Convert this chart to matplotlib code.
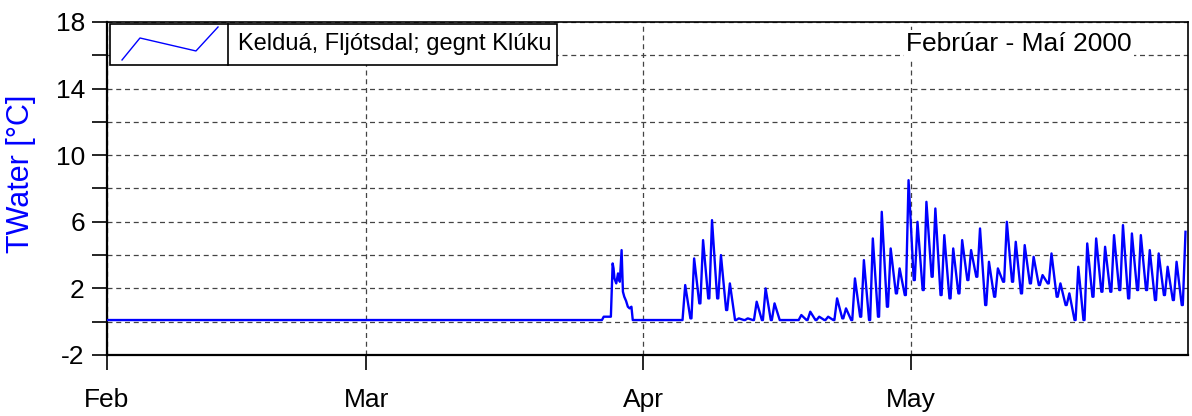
import pandas as pd
import matplotlib.pyplot as plt
import matplotlib.dates as mdates
from matplotlib.patches import Rectangle
from matplotlib.lines import Line2D

plt.rcParams["font.family"] = ["Liberation Sans", "DejaVu Sans"]
plt.rcParams["axes.unicode_minus"] = False

START = pd.Timestamp("2000-02-01")
END = pd.Timestamp("2000-06-01")

# days counted from 1 Feb; winter: water stays just above freezing
flat_days = [0.0, 55.4]
flat_temp = [0.1, 0.1]

# short thaw at the end of March
thaw_days = [55.6, 56.4, 56.5, 56.6, 56.7, 56.8, 57.0, 57.2, 57.4, 57.6,
             57.75, 57.9, 58.1, 58.3, 58.5, 58.7, 58.85, 64.0]
thaw_temp = [0.3, 0.3, 2.0, 3.5, 3.2, 2.6, 2.3, 2.9, 2.4, 4.3,
             1.8, 1.5, 1.25, 0.9, 0.8, 0.9, 0.1, 0.1]

# from 5 April: daily low / high
cycle_days = list(range(64, 121))
daily_low = [0.1, 0.2, 1.1, 1.4, 1.4, 0.7, 0.1, 0.1, 0.1, 0.1,
             0.1, 0.1, 0.1, 0.1, 0.1, 0.1, 0.1, 0.1, 0.2, 0.1,
             0.3, 0.1, 0.3, 0.9, 1.7, 1.6, 2.5, 1.9, 2.7, 1.6,
             1.4, 1.7, 2.5, 2.7, 1.0, 1.5, 2.4, 2.4, 1.7, 2.3,
             2.2, 2.3, 1.5, 1.0, 0.1, 0.1, 1.5, 1.8, 1.8, 1.9,
             1.4, 1.9, 1.9, 1.3, 1.6, 1.3, 1.0]
daily_high = [2.2, 3.8, 4.9, 6.1, 4.0, 2.3, 0.2, 0.2, 1.2, 2.0,
              1.1, 0.1, 0.1, 0.4, 0.6, 0.3, 0.3, 1.4, 0.8, 2.6,
              3.7, 5.0, 6.6, 4.4, 3.2, 8.5, 6.0, 7.2, 6.8, 5.2,
              4.4, 4.9, 4.3, 5.6, 3.6, 3.2, 6.0, 4.8, 4.6, 3.9,
              2.8, 4.1, 2.3, 1.7, 3.3, 4.7, 5.0, 4.5, 5.2, 5.8,
              5.3, 5.2, 4.3, 4.1, 3.3, 3.6, 5.4]

y_major = [-2, 2, 6, 10, 14, 18]
y_minor = [0, 4, 8, 12, 16]

series_label = "Kelduá, Fljótsdal; gegnt Klúku"
period_label = "Febrúar - Maí 2000"


def build_series():
    days = flat_days + thaw_days
    temps = flat_temp + thaw_temp
    for d, lo, hi in zip(cycle_days, daily_low, daily_high):
        days += [d + 0.3, d + 0.42, d + 0.72]
        temps += [lo, lo, hi]
    times = START + pd.to_timedelta(days, unit="D")
    return times, temps


def main() -> None:
    times, temps = build_series()

    fig = plt.figure(figsize=(11.92, 4.16), dpi=100)
    ax = fig.add_axes([107 / 1192, 61 / 416, 1081 / 1192, 333 / 416])

    ax.plot(times, temps, color="#0000ff", linewidth=1.7, zorder=3)

    ax.set_xlim(START, END)
    ax.set_ylim(-2, 18)
    ax.set_yticks(y_major)
    ax.set_yticks(y_minor, minor=True)
    ax.xaxis.set_major_locator(mdates.MonthLocator(bymonth=[2, 3, 4, 5]))
    ax.xaxis.set_major_formatter(mdates.DateFormatter("%b"))

    ax.tick_params(which="both", direction="out", length=11, width=1.2,
                   labelsize=19, colors="black")
    ax.tick_params(axis="x", pad=13)
    ax.tick_params(axis="y", pad=5)

    grid_style = dict(color="#444444", linewidth=0.9, linestyle=(0, (4, 3)))
    ax.grid(which="both", axis="y", **grid_style)
    ax.grid(which="major", axis="x", **grid_style)
    ax.set_axisbelow(True)

    for side in ["left", "bottom"]:
        ax.spines[side].set_linewidth(1.6)
    for side in ["top", "right"]:
        ax.spines[side].set_linewidth(1.2)

    fig.text(21 / 1192, 0.582, "TWater [°C]", rotation=90, color="#0000ff",
             fontsize=22, ha="center", va="center")

    # legend box with a hand-drawn style sample line
    ax.add_patch(Rectangle((0.003, 0.871), 0.413, 0.123, transform=ax.transAxes,
                           facecolor="white", edgecolor="black",
                           linewidth=1.2, zorder=5))
    ax.add_line(Line2D([0.112, 0.112], [0.871, 0.994], transform=ax.transAxes,
                       color="black", linewidth=1.2, zorder=6))
    ax.add_line(Line2D([0.0139, 0.0305, 0.0823, 0.1027],
                       [0.886, 0.952, 0.913, 0.985], transform=ax.transAxes,
                       color="#0000ff", linewidth=1.0, zorder=6))
    ax.text(0.121, 0.934, series_label, transform=ax.transAxes, fontsize=17,
            ha="left", va="center", zorder=6)

    ax.text(0.948, 0.934, period_label, transform=ax.transAxes, fontsize=19,
            ha="right", va="center", zorder=6,
            bbox=dict(facecolor="white", edgecolor="none", pad=1.5))

    fig.savefig("out.png", dpi=100)


if __name__ == "__main__":
    main()
